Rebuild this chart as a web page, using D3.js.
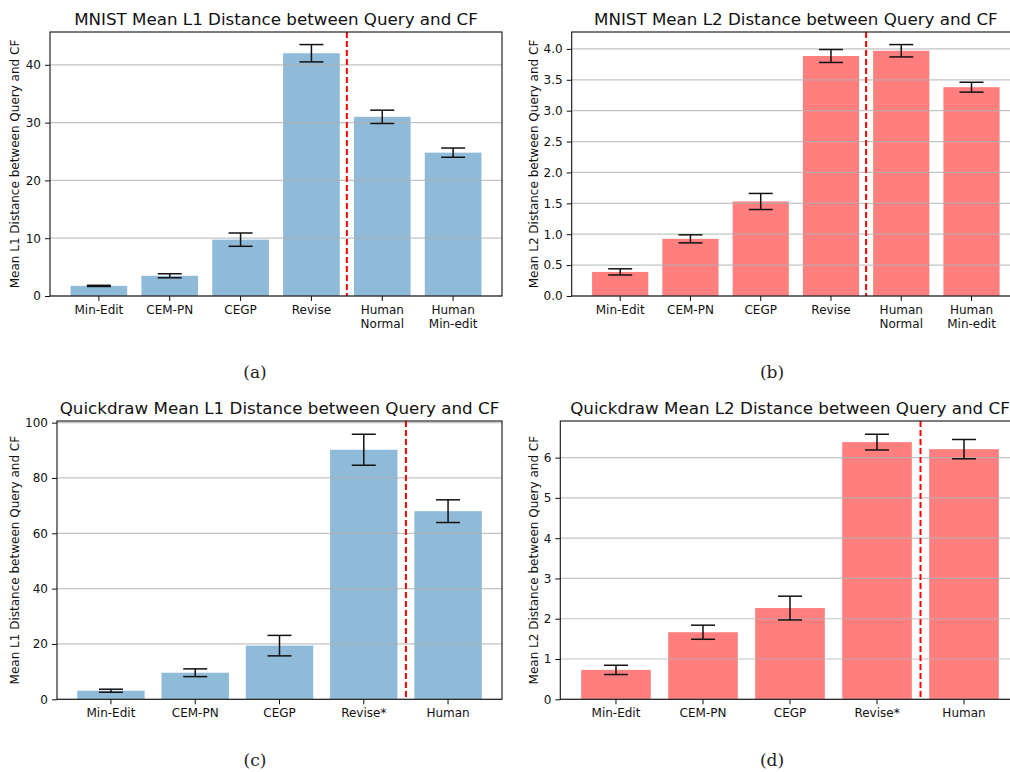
<!DOCTYPE html>
<html>
<head>
<meta charset="utf-8">
<script src="https://cdn.jsdelivr.net/npm/d3@7"></script>
<style>
  body { margin: 0; background: #fff; }
  svg { display: block; font-family: "DejaVu Sans", sans-serif; }
</style>
</head>
<body>
<div id="vis"></div>
<script>
var width = 1010,
    height = 772;

// data
var mnistLabels = ["Min-Edit", "CEM-PN", "CEGP", "Revise", "Human\nNormal", "Human\nMin-edit"];
var mnistL1Mean = [1.75, 3.5, 9.75, 42.0, 31.0, 24.8];
var mnistL1Err  = [0.1, 0.35, 1.15, 1.5, 1.15, 0.8];
var mnistL1Ticks = [0, 10, 20, 30, 40];

var mnistL2Mean = [0.39, 0.925, 1.53, 3.885, 3.97, 3.38];
var mnistL2Err  = [0.05, 0.065, 0.13, 0.105, 0.1, 0.08];
var mnistL2Ticks = [0, 0.5, 1.0, 1.5, 2.0, 2.5, 3.0, 3.5, 4.0];

var quickLabels = ["Min-Edit", "CEM-PN", "CEGP", "Revise*", "Human"];
var quickL1Mean = [3.1, 9.6, 19.4, 90.2, 68.0];
var quickL1Err  = [0.55, 1.4, 3.7, 5.6, 4.1];
var quickL1Ticks = [0, 20, 40, 60, 80, 100];

var quickL2Mean = [0.73, 1.665, 2.265, 6.385, 6.21];
var quickL2Err  = [0.115, 0.175, 0.295, 0.195, 0.24];
var quickL2Ticks = [0, 1, 2, 3, 4, 5, 6];

var blue = "#8fbbd9",
    red = "#ff7f7f";

var svg = d3.select("#vis").append("svg")
    .attr("width", width)
    .attr("height", height);

function drawPanel(p) {
  var g = svg.append("g");

  var n = p.labels.length;
  // matplotlib style x margins: 5% of bar span on each side
  var x = d3.scaleBand()
      .domain(d3.range(n))
      .range([p.left, p.right])
      .paddingInner(0.2)
      .paddingOuter(0.05 * (n - 0.2));

  var ymax = d3.max(p.mean, function(d, i) { return d + p.err[i]; }) * 1.05;
  var y = d3.scaleLinear().domain([0, ymax]).range([p.bottom, p.top]);

  // bars
  g.selectAll("rect.bar")
    .data(p.mean)
    .enter().append("rect")
    .attr("class", "bar")
    .attr("x", function(d, i) { return x(i); })
    .attr("width", x.bandwidth())
    .attr("y", function(d) { return y(d); })
    .attr("height", function(d) { return y(0) - y(d); })
    .attr("fill", p.color);

  // grid (sits over the bars, like the original)
  g.selectAll("line.grid")
    .data(p.ticks)
    .enter().append("line")
    .attr("class", "grid")
    .attr("x1", p.left).attr("x2", p.right)
    .attr("y1", function(d) { return y(d); })
    .attr("y2", function(d) { return y(d); })
    .attr("stroke", "#b0b0b0")
    .attr("stroke-opacity", 0.75)
    .attr("stroke-width", 1.2);

  // error bars
  var eb = g.selectAll("g.err")
    .data(p.mean)
    .enter().append("g")
    .attr("class", "err")
    .attr("stroke", "#111")
    .attr("stroke-width", 1.5);
  var cx = function(i) { return x(i) + x.bandwidth() / 2; };
  eb.append("line")
    .attr("x1", function(d, i) { return cx(i); })
    .attr("x2", function(d, i) { return cx(i); })
    .attr("y1", function(d, i) { return y(d - p.err[i]); })
    .attr("y2", function(d, i) { return y(d + p.err[i]); });
  eb.append("line")
    .attr("x1", function(d, i) { return cx(i) - 12; })
    .attr("x2", function(d, i) { return cx(i) + 12; })
    .attr("y1", function(d, i) { return y(d + p.err[i]); })
    .attr("y2", function(d, i) { return y(d + p.err[i]); });
  eb.append("line")
    .attr("x1", function(d, i) { return cx(i) - 12; })
    .attr("x2", function(d, i) { return cx(i) + 12; })
    .attr("y1", function(d, i) { return y(d - p.err[i]); })
    .attr("y2", function(d, i) { return y(d - p.err[i]); });

  // dashed separator between models and humans
  var sx = (cx(p.split) + cx(p.split + 1)) / 2;
  g.append("line")
    .attr("x1", sx).attr("x2", sx)
    .attr("y1", p.top).attr("y2", p.bottom)
    .attr("stroke", "red")
    .attr("stroke-width", 2)
    .attr("stroke-dasharray", "6,3");

  // axes
  var yAxis = d3.axisLeft(y)
    .tickValues(p.ticks)
    .tickSize(5)
    .tickPadding(4)
    .tickFormat(p.fmt);
  var ya = g.append("g")
    .attr("transform", "translate(" + p.left + ",0)")
    .call(yAxis)
    .attr("font-family", null)
    .attr("font-size", null);
  ya.select(".domain").remove();
  ya.selectAll("line").attr("stroke", "#111");
  ya.selectAll("text").style("font-size", "12px").attr("fill", "#111");

  var xAxis = d3.axisBottom(x)
    .tickSize(5)
    .tickPadding(4)
    .tickFormat("");
  var xa = g.append("g")
    .attr("transform", "translate(0," + p.bottom + ")")
    .call(xAxis)
    .attr("font-family", null)
    .attr("font-size", null);
  xa.select(".domain").remove();
  xa.selectAll("line").attr("stroke", "#111");

  xa.selectAll(".tick").each(function(d) {
    var lines = p.labels[d].split("\n");
    var t = d3.select(this).append("text")
      .attr("fill", "#111")
      .attr("text-anchor", "middle")
      .style("font-size", "12px");
    lines.forEach(function(l, k) {
      t.append("tspan")
        .attr("x", 0)
        .attr("y", 18 + k * 14)
        .text(l);
    });
  });

  // frame
  g.append("rect")
    .attr("x", p.left).attr("y", p.top)
    .attr("width", p.right - p.left)
    .attr("height", p.bottom - p.top)
    .attr("fill", "none")
    .attr("stroke", "#111")
    .attr("stroke-width", 1.1);

  // title
  g.append("text")
    .attr("x", (p.left + p.right) / 2)
    .attr("y", p.top - 7)
    .attr("text-anchor", "middle")
    .style("font-size", "16.7px")
    .attr("fill", "#111")
    .text(p.title);

  // y label
  g.append("text")
    .attr("transform", "translate(" + p.ylabX + "," + (p.top + p.bottom) / 2 + ") rotate(-90)")
    .attr("text-anchor", "middle")
    .style("font-size", "12px")
    .attr("fill", "#111")
    .text(p.ylabel);

  // panel caption
  svg.append("text")
    .attr("x", p.capX)
    .attr("y", p.capY)
    .attr("text-anchor", "middle")
    .style("font-family", "'DejaVu Serif', serif")
    .style("font-size", "17px")
    .attr("fill", "#222")
    .text(p.caption);
}

var f1 = d3.format(".1f");

drawPanel({
  labels: mnistLabels, mean: mnistL1Mean, err: mnistL1Err, ticks: mnistL1Ticks,
  fmt: d3.format("d"), color: blue, split: 3,
  left: 50, right: 502, top: 32, bottom: 296, ylabX: 19,
  title: "MNIST Mean L1 Distance between Query and CF",
  ylabel: "Mean L1 Distance between Query and CF",
  caption: "(a)", capX: 255, capY: 378
});

drawPanel({
  labels: mnistLabels, mean: mnistL2Mean, err: mnistL2Err, ticks: mnistL2Ticks,
  fmt: f1, color: red, split: 3,
  left: 571.7, right: 1020, top: 32, bottom: 296, ylabX: 538,
  title: "MNIST Mean L2 Distance between Query and CF",
  ylabel: "Mean L2 Distance between Query and CF",
  caption: "(b)", capX: 772, capY: 378
});

drawPanel({
  labels: quickLabels, mean: quickL1Mean, err: quickL1Err, ticks: quickL1Ticks,
  fmt: d3.format("d"), color: blue, split: 3,
  left: 57, right: 502, top: 421, bottom: 699.3, ylabX: 19,
  title: "Quickdraw Mean L1 Distance between Query and CF",
  ylabel: "Mean L1 Distance between Query and CF",
  caption: "(c)", capX: 255, capY: 766
});

drawPanel({
  labels: quickLabels, mean: quickL2Mean, err: quickL2Err, ticks: quickL2Ticks,
  fmt: d3.format("d"), color: red, split: 3,
  left: 560.3, right: 1019.7, top: 421, bottom: 699.3, ylabX: 538,
  title: "Quickdraw Mean L2 Distance between Query and CF",
  ylabel: "Mean L2 Distance between Query and CF",
  caption: "(d)", capX: 772, capY: 766
});
</script>
</body>
</html>
